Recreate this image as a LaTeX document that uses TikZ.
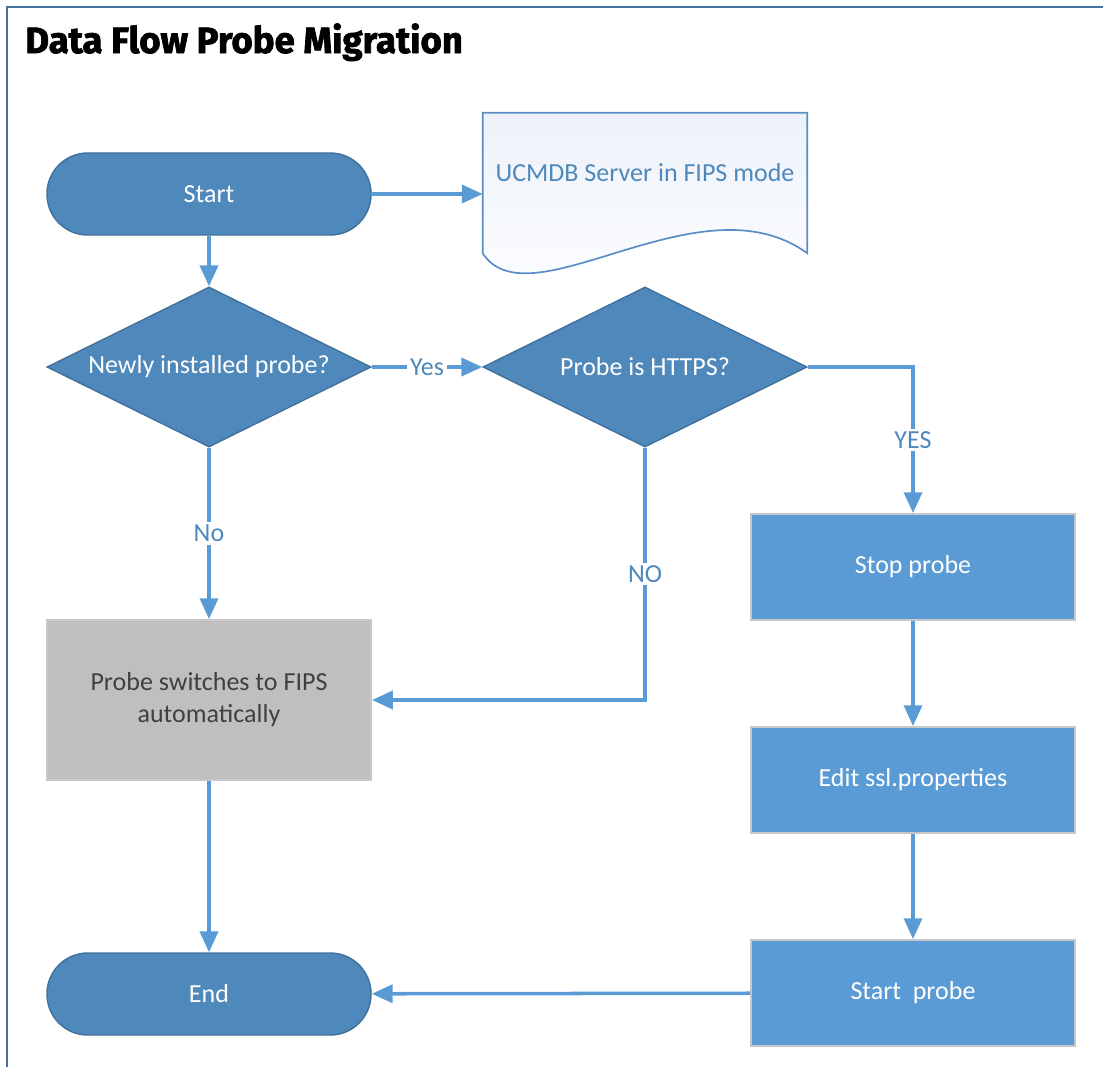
\documentclass[tikz,border=0pt]{standalone}
\usepackage{fontspec}
\setmainfont{Carlito}
\newfontfamily\titlefont{Fira Sans}[BoldFeatures={FakeBold=2}]
\usetikzlibrary{shapes.geometric, arrows.meta}

\definecolor{termblue}{HTML}{4F88BB}
\definecolor{termedge}{HTML}{41719C}
\definecolor{stepblue}{HTML}{5B9BD5}
\definecolor{framecol}{HTML}{41719C}
\definecolor{docfill}{HTML}{EDF2FA}
\definecolor{docedge}{HTML}{5A8DC6}
\definecolor{greyfill}{HTML}{BFBFBF}
\definecolor{greytext}{HTML}{404040}

\begin{document}
\begin{tikzpicture}[
    % GLOBAL SETTINGS
    x=0.025cm, y=-0.025cm,
    % STYLES
    maintext/.style={font=\fontsize{18.5}{22.7}\selectfont},
    terminal/.style={maintext, rectangle, rounded corners=1.02cm, draw=termedge, fill=termblue, line width=1pt, minimum width=8.1cm, minimum height=2.05cm, text=white},
    decision/.style={maintext, diamond, aspect=2, draw=termedge, fill=termblue, line width=1pt, minimum width=8.1cm, minimum height=4cm, inner sep=0pt, text=white},
    process/.style={maintext, rectangle, draw=black!22, fill=stepblue, line width=1.3pt, minimum width=8.1cm, minimum height=2.65cm, text=white},
    fipsbox/.style={process, fill=greyfill, text=greytext, minimum height=4cm, align=center},
    docbox/.style={rectangle, minimum width=8.1cm, minimum height=3.5cm, inner sep=0pt},
    doclabel/.style={maintext, text=termblue},
    flow/.style={draw=stepblue, line width=2.5pt, -{Triangle[length=0.52cm, width=0.45cm]}},
    flowlabel/.style={maintext, fill=white, text=termblue, inner sep=2pt},
    heading/.style={font=\titlefont\bfseries\fontsize{26}{30}\selectfont, text=black}
]

    \useasboundingbox (0,0) rectangle (1103,1067);

    % frame and title
    \draw[framecol, line width=2pt] (7,1067) -- (7,7) -- (1103,7);
    \node[heading, anchor=base west, inner sep=0pt] (title) at (25,53) {Data Flow Probe Migration};

    % left column
    \node[terminal] (start) at (209,194) {Start};
    \node[decision] (newprobe) at (209,367) {Newly installed probe?};
    \node[fipsbox] (auto) at (209,700) {Probe switches to FIPS\\automatically};
    \node[terminal] (end) at (209,994) {End};

    % document
    \node[docbox] (doc) at (645,183) {};
    \path[draw=docedge, line width=1.2pt, top color=docfill, bottom color=white]
        (doc.north west) -- (doc.north east) -- (doc.south east)
        .. controls (700,175) and (530,325) .. (doc.south west) -- cycle;
    \node[doclabel] (doctext) at (645,173) {UCMDB Server in FIPS mode};

    \node[decision] (https) at (645,367) {Probe is HTTPS?};

    % right column
    \node[process] (stop) at (913,567) {Stop probe};
    \node[process] (edit) at (913,780) {Edit ssl.properties};
    \node[process] (restart) at (913,993) {Start\ \ probe};

    % connectors
    \draw[flow] (start.east) -- (start.east -| doc.west);
    \draw[flow] (start) -- (newprobe);
    \draw[flow] (newprobe) -- node[flowlabel] {Yes} (https);
    \draw[flow] (newprobe) -- node[flowlabel] {No} (auto);
    \draw[flow] (https.east) -| node[flowlabel, pos=0.75] {YES} (stop.north);
    \draw[flow] (https.south) |- node[flowlabel, pos=0.25] {NO} (auto.east);
    \draw[flow] (auto) -- (end);

    \foreach \a/\b in {stop/edit, edit/restart} {
        \draw[flow] (\a) -- (\b);
    }
    \draw[flow] (restart) -- (end);

\end{tikzpicture}
\end{document}
